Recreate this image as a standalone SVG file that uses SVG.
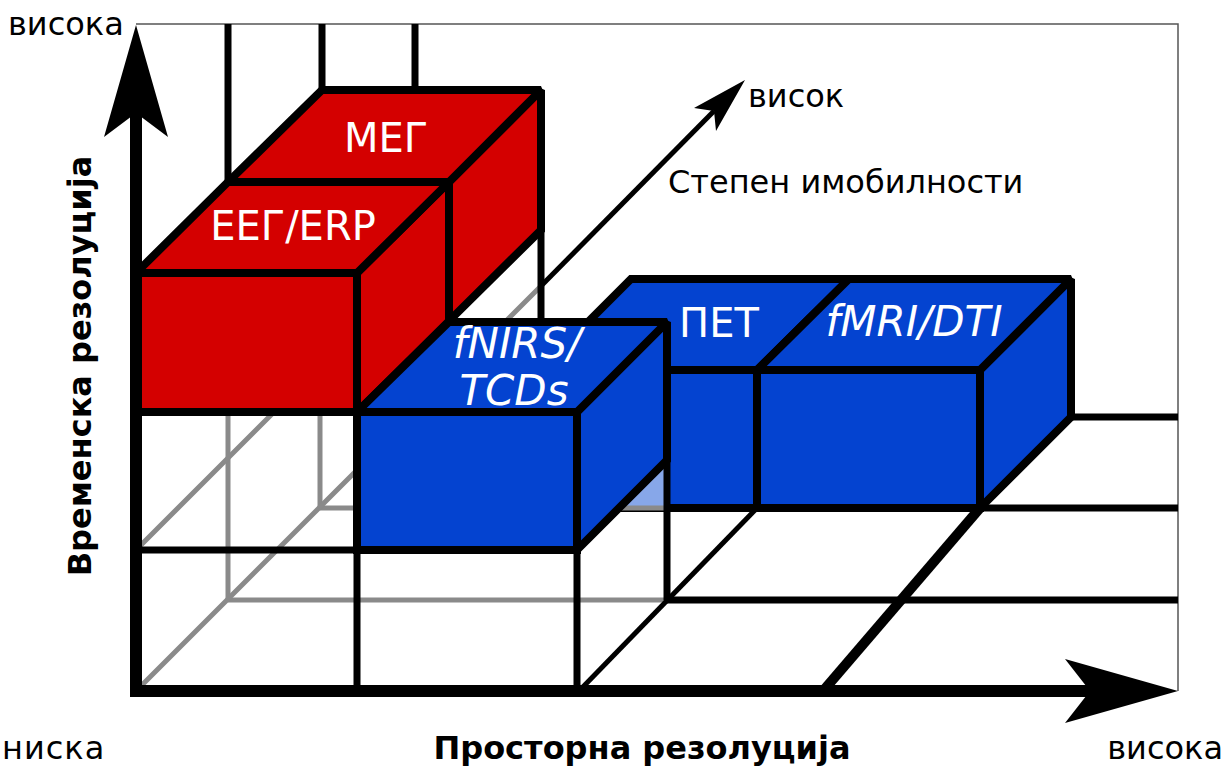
<svg xmlns="http://www.w3.org/2000/svg" width="1225" height="767" viewBox="0 0 1225 767">
  <defs>
    <style>
      .frame { stroke: #555; stroke-width: 1.5; fill: none; }
      .hid { stroke: #8a8a8a; stroke-width: 5; fill: none; }
      .grid { stroke: #000; stroke-width: 7; fill: none; }
      .grid-thin { stroke: #000; stroke-width: 5; fill: none; }
      .grid-thick { stroke: #000; stroke-width: 10; fill: none; }
      .edge { stroke: #000; stroke-width: 8; stroke-linejoin: miter; stroke-miterlimit: 2; }
      .red { fill: #d40000; }
      .blue { fill: #0443d0; }
      .ghost { fill: #87a7e9; }
      .axis { stroke: #000; stroke-width: 12; fill: none; }
      .head { fill: #000; }
      .lbl { font-family: "DejaVu Sans", Verdana, sans-serif; font-size: 32px; fill: #000; }
      .title { font-family: "DejaVu Sans", Verdana, sans-serif; font-size: 32px; font-weight: bold; fill: #000; }
      .in { font-family: "DejaVu Sans", Verdana, sans-serif; font-size: 40px; fill: #fff; text-anchor: middle; }
      .it { font-style: italic; font-size: 42px; }
    </style>
  </defs>

  <!-- outer frame -->
  <g id="frame">
    <path class="frame" d="M136 24 H1178 V691"/>
  </g>

  <!-- hidden (grey) grid lines behind the boxes -->
  <g id="hidden-grid">
    <path class="hid" d="M228 412 V600 M320 412 V508"/>
    <path class="hid" d="M228 600 H666 M320 508 H357 M577 508 H666"/>
    <path class="hid" d="M136 550 L274 412 M136 691 L357 470 M505 322 L541 286"/>
  </g>

  <!-- visible grid lines -->
  <g id="grid">
    <path class="grid" d="M228 24 V182 M322 24 V90 M415 24 V90"/>
    <path class="grid" d="M541 226 V322"/>
    <path class="grid" d="M136 550 H577 M357 412 V691 M577 550 V691"/>
    <path class="grid" d="M666 600 H1178 M666 508 H1178 M1071 417 H1178"/>
    <path class="grid-thin" d="M579 691 L757 508"/>
    <path class="grid-thick" d="M823 691 L980 508"/>
  </g>

  <!-- MEG box -->
  <g id="node-meg">
    <polygon class="red edge" points="449,182 541,90 541,230 449,321"/>
    <polygon class="red edge" points="228,182 449,182 541,90 322,90"/>
    <text class="in" x="386" y="152">МЕГ</text>
  </g>

  <!-- EEG/ERP box -->
  <g id="node-eeg">
    <polygon class="red edge" points="357,273 449,182 449,321 357,412"/>
    <polygon class="red edge" points="136,273 357,273 449,182 228,182"/>
    <rect class="red edge" x="136" y="273" width="221" height="139"/>
    <text class="in" x="293" y="240">ЕЕГ/ERP</text>
  </g>

  <!-- PET box -->
  <g id="node-pet">
    <polygon class="blue edge" points="540,370 757,370 849,279 631,279"/>
    <rect class="blue edge" x="540" y="370" width="217" height="138"/>
    <polygon class="ghost" points="619,508 667,460 667,508"/>
    <path class="hid" d="M577 508 H664"/>
    <text class="in" x="719" y="337">ПЕТ</text>
  </g>

  <!-- fMRI/DTI box -->
  <g id="node-fmri">
    <polygon class="blue edge" points="980,370 1071,279 1071,417 980,508"/>
    <polygon class="blue edge" points="757,370 980,370 1071,279 849,279"/>
    <rect class="blue edge" x="757" y="370" width="223" height="138"/>
    <text class="in it" x="914" y="336">fMRI/DTI</text>
  </g>

  <!-- fNIRS/TCDs box -->
  <g id="node-fnirs">
    <polygon class="blue edge" points="577,412 667,322 667,460 577,550"/>
    <polygon class="blue edge" points="357,412 577,412 667,322 449,322"/>
    <rect class="blue edge" x="357" y="412" width="220" height="138"/>
    <text class="in it" x="517" y="358">fNIRS/</text>
    <text class="in it" x="514" y="405">TCDs</text>
  </g>

  <!-- connectors: axes and depth arrow -->
  <g id="connectors">
    <path class="grid" d="M667 460 V600"/>
    <path class="grid-thin" d="M541 286 L714 111"/>
    <polygon class="head" points="745,80 716,131 714,111 694,108"/>
    <path class="axis" d="M136 697 V113"/>
    <polygon class="head" points="136,25 168,137 136,113 104,137"/>
    <path class="axis" d="M130 691 H1090"/>
    <polygon class="head" points="1178,691 1065,659 1090,691 1065,723"/>
  </g>

  <!-- axis labels -->
  <g id="labels">
    <text class="lbl" x="8" y="35">висока</text>
    <text class="lbl" x="2" y="759" font-size="34" letter-spacing="1">ниска</text>
    <text class="lbl" x="1223" y="759" text-anchor="end">висока</text>
    <text class="lbl" x="748" y="107">висок</text>
    <text class="lbl" x="668" y="193">Степен имобилности</text>
    <text class="title" x="642" y="759" text-anchor="middle">Просторна резолуција</text>
    <text class="title" transform="translate(91 366) rotate(-90)" text-anchor="middle">Временска резолуција</text>
  </g>
</svg>
